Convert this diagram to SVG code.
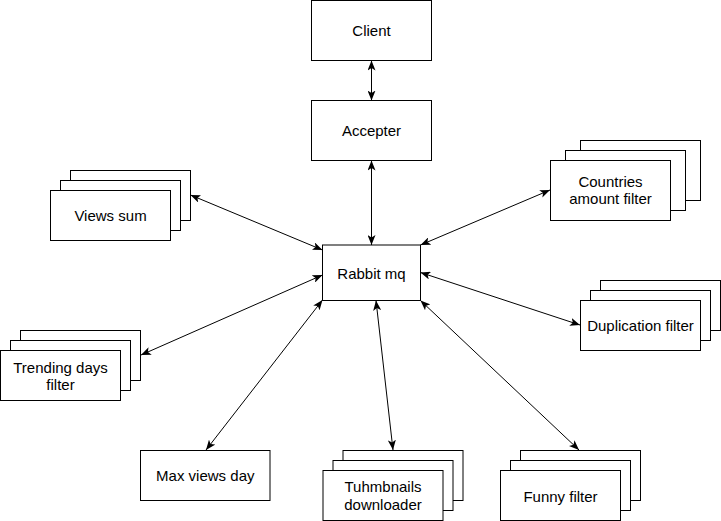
<svg xmlns="http://www.w3.org/2000/svg" width="721" height="521" viewBox="0 0 721 521">
<style>
rect{fill:#fff;stroke:#000;stroke-width:1}
text{font-family:"Liberation Sans",Arial,sans-serif;font-size:15px;fill:#000;text-anchor:middle}
.c line{stroke:#000;stroke-width:1;marker-start:url(#a);marker-end:url(#a)}
</style>
<defs>
<marker id="a" viewBox="0 0 10 8" refX="10" refY="4" markerWidth="10" markerHeight="8" markerUnits="userSpaceOnUse" orient="auto-start-reverse">
<path d="M0,0 L10,4 L0,8 L2.5,4 z" fill="#000"/>
</marker>
</defs>
<rect width="721" height="521" style="stroke:none"/>
<g class="c" id="connectors">
<line x1="371.5" y1="60.5" x2="371.5" y2="100.5"/>
<line x1="371.5" y1="160.5" x2="371.5" y2="245"/>
<line x1="190.5" y1="195" x2="322.5" y2="250"/>
<line x1="550" y1="190" x2="420.5" y2="245"/>
<line x1="420.5" y1="272.5" x2="580" y2="325"/>
<line x1="322.5" y1="275" x2="141" y2="355"/>
<line x1="322.5" y1="300" x2="206" y2="450"/>
<line x1="376" y1="300.5" x2="393" y2="450"/>
<line x1="420.5" y1="300.5" x2="579" y2="450"/>
</g>
<g id="client">
<rect x="311.5" y="0.5" width="120" height="60"/>
<text x="371.5" y="35.8">Client</text>
</g>
<g id="accepter">
<rect x="311.5" y="100.5" width="120" height="60"/>
<text x="371.5" y="136">Accepter</text>
</g>
<g id="rabbit">
<rect x="322.5" y="245" width="98" height="55.5"/>
<text x="371.5" y="278.5">Rabbit mq</text>
</g>
<g id="views-sum">
<rect x="70.5" y="170.5" width="120" height="50"/>
<rect x="60.5" y="180.5" width="120" height="50"/>
<rect x="50.5" y="190.5" width="120" height="50"/>
<text x="110.5" y="221">Views sum</text>
</g>
<g id="countries">
<rect x="580.5" y="140.5" width="120" height="60"/>
<rect x="565.5" y="150.5" width="120" height="60"/>
<rect x="550.5" y="160.5" width="120" height="60"/>
<text x="610.5" y="187">Countries</text>
<text x="610.5" y="204.3">amount filter</text>
</g>
<g id="trending">
<rect x="20.5" y="330.5" width="120" height="50"/>
<rect x="10.5" y="340.5" width="120" height="50"/>
<rect x="0.5" y="350.5" width="120" height="50"/>
<text x="60.5" y="372.5">Trending days</text>
<text x="60.5" y="390">filter</text>
</g>
<g id="duplication">
<rect x="600.5" y="280.5" width="120" height="50"/>
<rect x="590.5" y="290.5" width="120" height="50"/>
<rect x="580.5" y="300.5" width="120" height="50"/>
<text x="640.5" y="331">Duplication filter</text>
</g>
<g id="max-views">
<rect x="140.5" y="450.5" width="129.5" height="50"/>
<text x="205.3" y="481">Max views day</text>
</g>
<g id="thumbnails">
<rect x="343" y="450.5" width="120" height="50"/>
<rect x="333" y="460.5" width="120" height="50"/>
<rect x="323" y="470.5" width="120" height="50"/>
<text x="383" y="492">Tuhmbnails</text>
<text x="383" y="509.5">downloader</text>
</g>
<g id="funny">
<rect x="520.5" y="450.5" width="120" height="50"/>
<rect x="510.5" y="460.5" width="120" height="50"/>
<rect x="500.5" y="470.5" width="120" height="50"/>
<text x="560.5" y="501.5">Funny filter</text>
</g>
</svg>
